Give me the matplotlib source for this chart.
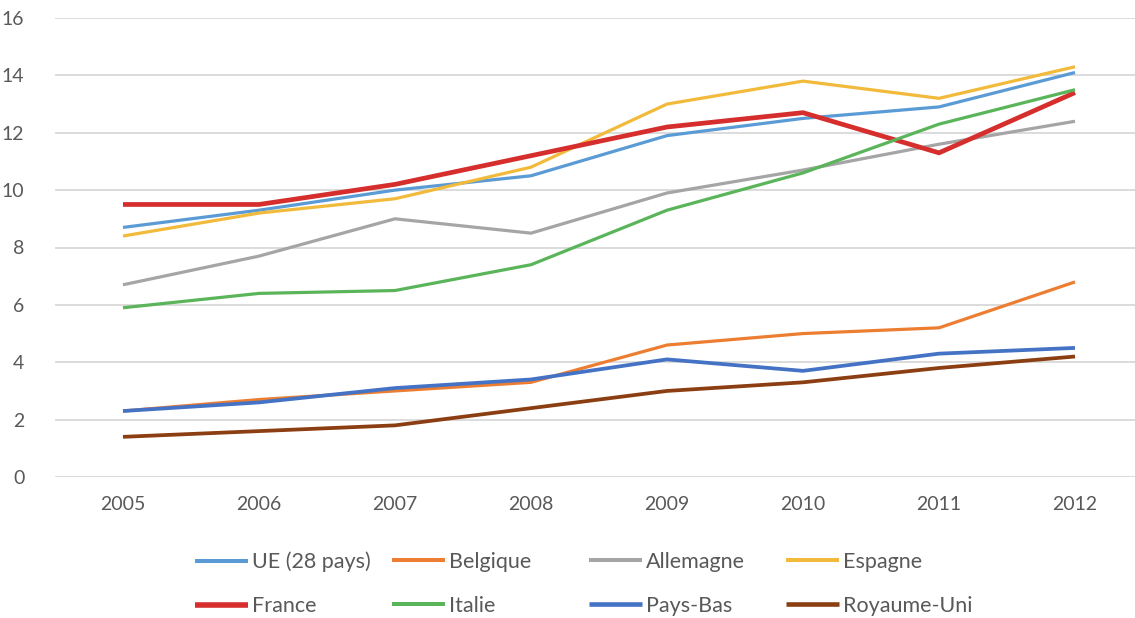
import matplotlib
matplotlib.use("Agg")
import matplotlib.pyplot as plt

years = [2005, 2006, 2007, 2008, 2009, 2010, 2011, 2012]
ue = [8.7, 9.3, 10.0, 10.5, 11.9, 12.5, 12.9, 14.1]
belgique = [2.3, 2.7, 3.0, 3.3, 4.6, 5.0, 5.2, 6.8]
allemagne = [6.7, 7.7, 9.0, 8.5, 9.9, 10.7, 11.6, 12.4]
espagne = [8.4, 9.2, 9.7, 10.8, 13.0, 13.8, 13.2, 14.3]
france = [9.5, 9.5, 10.2, 11.2, 12.2, 12.7, 11.3, 13.4]
italie = [5.9, 6.4, 6.5, 7.4, 9.3, 10.6, 12.3, 13.5]
pays_bas = [2.3, 2.6, 3.1, 3.4, 4.1, 3.7, 4.3, 4.5]
royaume_uni = [1.4, 1.6, 1.8, 2.4, 3.0, 3.3, 3.8, 4.2]

names = ["UE (28 pays)", "Belgique", "Allemagne", "Espagne",
         "France", "Italie", "Pays-Bas", "Royaume-Uni"]
series = [ue, belgique, allemagne, espagne, france, italie, pays_bas, royaume_uni]
colors = ["#5B9BD5", "#ED7D31", "#A5A5A5", "#F2BA3A",
          "#D62D2D", "#5AB55A", "#4472C4", "#8B3E12"]
widths = [2.3, 2.3, 2.3, 2.3, 3.4, 2.3, 2.7, 2.7]

plt.rcParams['font.family'] = ['Lato', 'DejaVu Sans']

fig = plt.figure(figsize=(11.35, 6.18), dpi=100)
ax = fig.add_axes([55/1135, 1-477/618, (1143-55)/1135, (477-18)/618])

handles = []
for name, vals, c, w in zip(names, series, colors, widths):
    h, = ax.plot(years, vals, color=c, lw=w, label=name, solid_capstyle='butt',
                 solid_joinstyle='miter', zorder=3)
    handles.append(h)

ax.set_xlim(2004.5, 2012.5)
ax.set_ylim(0, 16)
ax.set_yticks(range(0, 17, 2))
ax.set_xticks(years)
ax.grid(axis='y', color='#D9D9D9', lw=1.3, zorder=0)
for s in ax.spines.values():
    s.set_visible(False)
ax.tick_params(axis='both', length=0, labelsize=14, colors='#595959')
ax.tick_params(axis='x', pad=14)
ax.tick_params(axis='y', pad=22)

col_x = [184, 381, 578, 775]
for i, x in enumerate(col_x):
    hs = [handles[i], handles[i + 4]]
    leg = fig.legend(handles=hs, labels=[names[i], names[i + 4]],
                     loc='upper left', bbox_to_anchor=(x/1135, 1-541/618),
                     frameon=False, fontsize=15.5, handlelength=2.45,
                     handletextpad=0.2, labelspacing=1.12, borderpad=0,
                     labelcolor='#595959')
    for ln, w in zip(leg.get_lines(), [widths[i], widths[i + 4]]):
        ln.set_linewidth(w + 0.6)

fig.savefig("out.png", dpi=100)
